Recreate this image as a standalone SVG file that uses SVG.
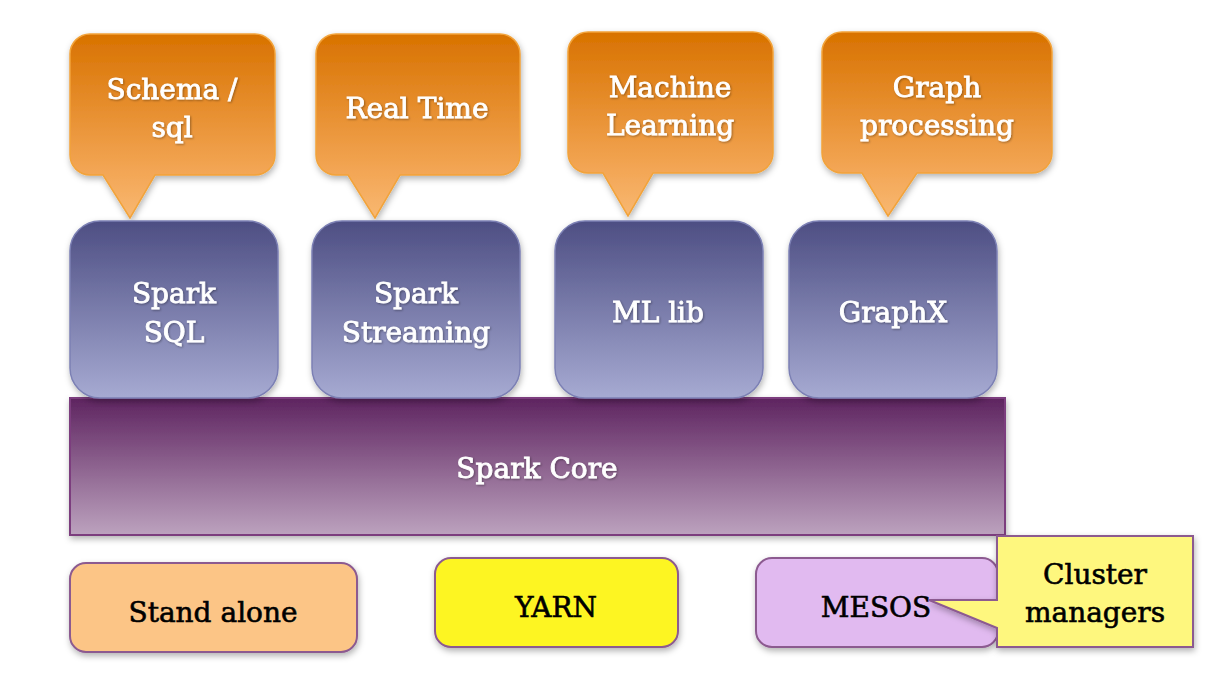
<svg xmlns="http://www.w3.org/2000/svg" width="1215" height="686" viewBox="0 0 1215 686">
  <defs>
    <linearGradient id="gOrange" x1="0" y1="0" x2="0" y2="1">
      <stop offset="0" stop-color="#D87200"/>
      <stop offset="0.75" stop-color="#F3A655"/>
      <stop offset="1" stop-color="#F8B872"/>
    </linearGradient>
    <linearGradient id="gBlue" x1="0" y1="0" x2="0" y2="1">
      <stop offset="0" stop-color="#4D4E83"/>
      <stop offset="1" stop-color="#A6AAD2"/>
    </linearGradient>
    <linearGradient id="gCore" x1="0" y1="0" x2="0" y2="1">
      <stop offset="0" stop-color="#5E2460"/>
      <stop offset="1" stop-color="#BCA2BE"/>
    </linearGradient>
    <filter id="sh" x="-10%" y="-10%" width="125%" height="130%">
      <feDropShadow dx="1" dy="3" stdDeviation="3" flood-color="#000" flood-opacity="0.3"/>
    </filter>
    <filter id="tsh" x="-10%" y="-20%" width="125%" height="150%">
      <feDropShadow dx="1" dy="1" stdDeviation="0.8" flood-color="#000" flood-opacity="0.35"/>
    </filter>
  </defs>
  <style>
    .callout { fill: url(#gOrange); stroke: #F2A33A; stroke-width: 1.5; filter: url(#sh); }
    .blue { fill: url(#gBlue); stroke: #7C80B4; stroke-width: 1.5; filter: url(#sh); }
    .core { fill: url(#gCore); stroke: #7C3C7E; stroke-width: 2; filter: url(#sh); }
    .cm { stroke: #8C5A90; stroke-width: 2; filter: url(#sh); }
    .wt { font-family: "DejaVu Serif", "Liberation Serif", serif; font-size: 28px; fill: #FFFFFF; stroke: #FFFFFF; stroke-width: 0.8; text-anchor: middle; filter: url(#tsh); }
    .bt { font-family: "DejaVu Serif", "Liberation Serif", serif; font-size: 28px; fill: #000000; stroke: #000000; stroke-width: 0.6; text-anchor: middle; }
  </style>

  <rect x="0" y="0" width="1215" height="686" fill="#FFFFFF"/>

  <g id="callout-schema">
    <path class="callout" d="M90,34 H255 A20,20 0 0 1 275,54 V155 A20,20 0 0 1 255,175 H155 L130,218 L103,175 H90 A20,20 0 0 1 70,155 V54 A20,20 0 0 1 90,34 Z"/>
    <text class="wt" x="172" y="99">Schema /</text>
    <text class="wt" x="172" y="137">sql</text>
  </g>
  <g id="callout-realtime">
    <path class="callout" d="M336,34 H500 A20,20 0 0 1 520,54 V155 A20,20 0 0 1 500,175 H400 L375,218 L348,175 H336 A20,20 0 0 1 316,155 V54 A20,20 0 0 1 336,34 Z"/>
    <text class="wt" x="417" y="118">Real Time</text>
  </g>
  <g id="callout-ml">
    <path class="callout" d="M588,32 H753 A20,20 0 0 1 773,52 V153 A20,20 0 0 1 753,173 H653 L628,216 L603,173 H588 A20,20 0 0 1 568,153 V52 A20,20 0 0 1 588,32 Z"/>
    <text class="wt" x="670" y="97">Machine</text>
    <text class="wt" x="670" y="135">Learning</text>
  </g>
  <g id="callout-graph">
    <path class="callout" d="M842,32 H1032 A20,20 0 0 1 1052,52 V153 A20,20 0 0 1 1032,173 H917 L888,216 L862,173 H842 A20,20 0 0 1 822,153 V52 A20,20 0 0 1 842,32 Z"/>
    <text class="wt" x="937" y="97">Graph</text>
    <text class="wt" x="937" y="135">processing</text>
  </g>

  <g id="spark-core">
    <rect class="core" x="70" y="398" width="935" height="137"/>
    <text class="wt" x="537" y="478">Spark Core</text>
  </g>

  <g id="spark-sql">
    <rect class="blue" x="70" y="221" width="208" height="177" rx="30" ry="30"/>
    <text class="wt" x="174" y="303">Spark</text>
    <text class="wt" x="174" y="342">SQL</text>
  </g>
  <g id="spark-streaming">
    <rect class="blue" x="312" y="221" width="208" height="177" rx="30" ry="30"/>
    <text class="wt" x="416" y="303">Spark</text>
    <text class="wt" x="416" y="342">Streaming</text>
  </g>
  <g id="ml-lib">
    <rect class="blue" x="555" y="221" width="208" height="177" rx="30" ry="30"/>
    <text class="wt" x="658" y="322">ML lib</text>
  </g>
  <g id="graphx">
    <rect class="blue" x="789" y="221" width="208" height="177" rx="30" ry="30"/>
    <text class="wt" x="893" y="322">GraphX</text>
  </g>

  <g id="standalone">
    <rect class="cm" x="70" y="563" width="287" height="89" rx="16" ry="16" fill="#FCC586"/>
    <text class="bt" x="213" y="622">Stand alone</text>
  </g>
  <g id="yarn">
    <rect class="cm" x="435" y="558" width="243" height="89" rx="16" ry="16" fill="#FDF524"/>
    <text class="bt" x="556" y="617">YARN</text>
  </g>
  <g id="mesos">
    <rect class="cm" x="756" y="558" width="242" height="89" rx="16" ry="16" fill="#E1BAF0"/>
    <text class="bt" x="876" y="617">MESOS</text>
  </g>
  <g id="cluster-managers">
    <path class="cm" fill="#FEF77E" d="M997,536 H1193 V647 H997 V628 L929,600 H997 Z"/>
    <text class="bt" x="1095" y="584">Cluster</text>
    <text class="bt" x="1095" y="622">managers</text>
  </g>
</svg>
